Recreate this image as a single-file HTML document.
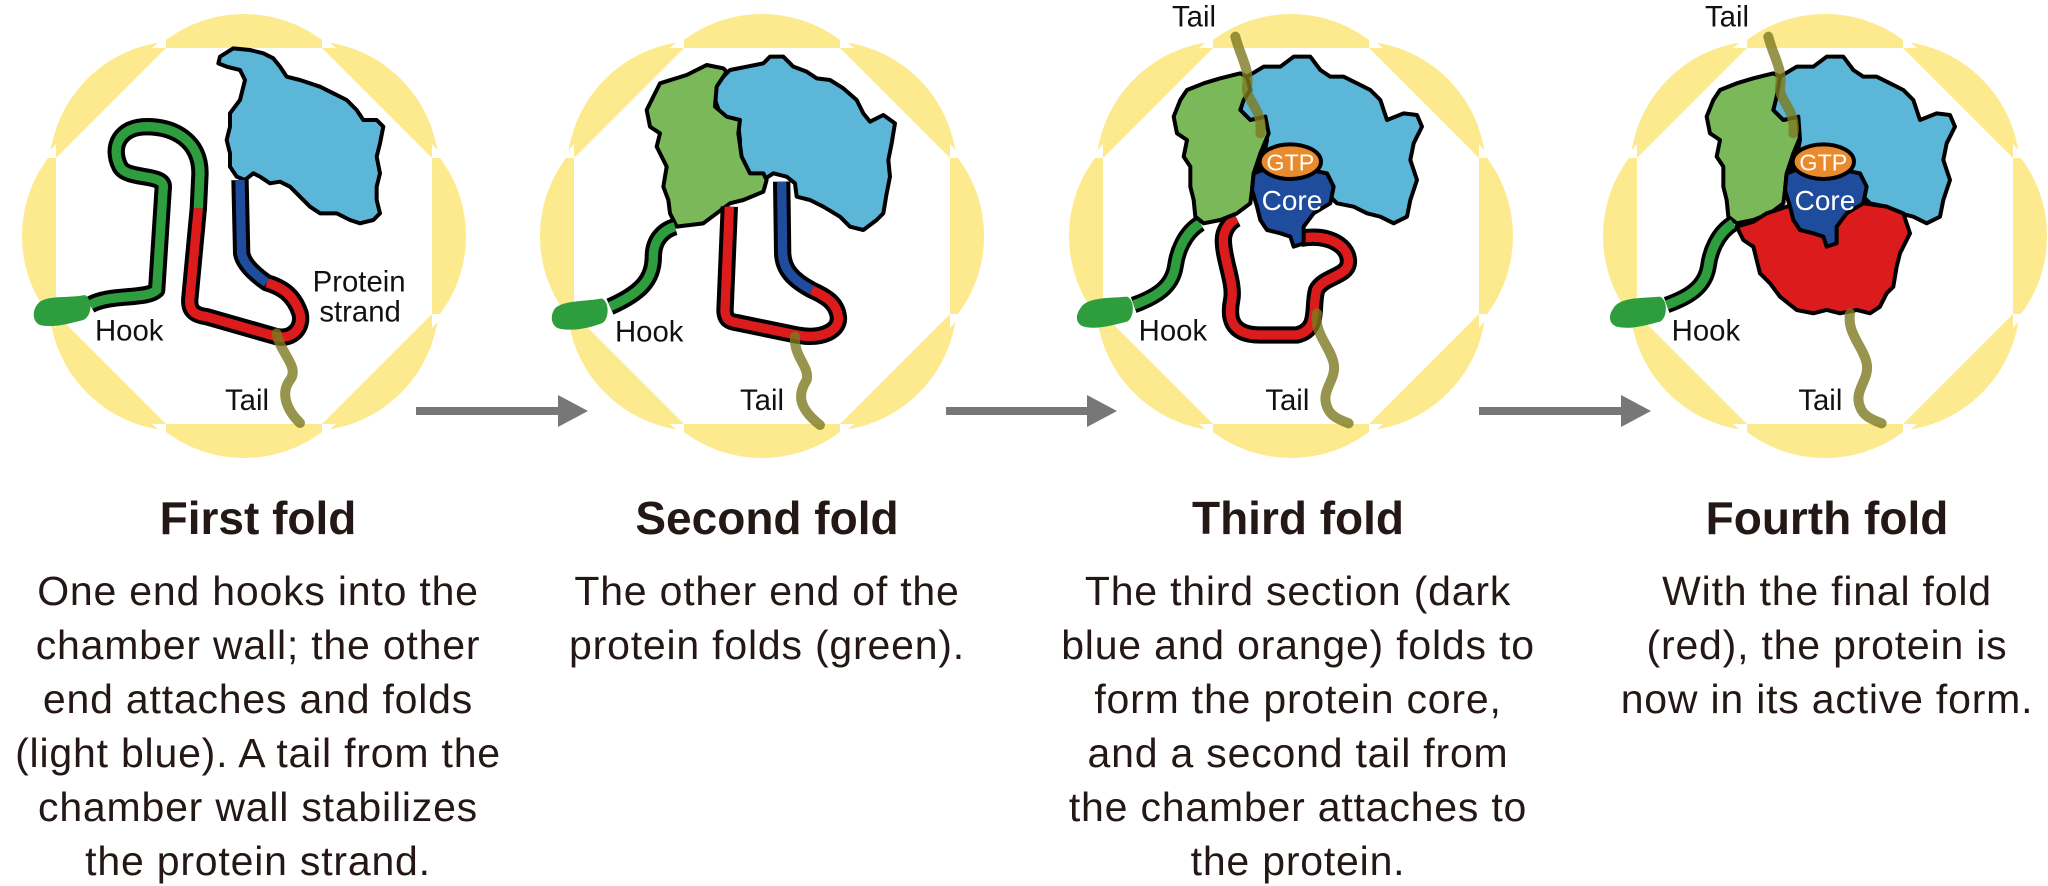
<!DOCTYPE html>
<html><head><meta charset="utf-8"><style>
html,body{margin:0;padding:0;background:#fff;}
svg{display:block;}
text{font-family:"Liberation Sans",sans-serif;}
</style></head><body>
<svg width="2048" height="886" viewBox="0 0 2048 886" xmlns="http://www.w3.org/2000/svg">
<defs>
  <g id="cham">
    <g fill="#fdea8e">
      <circle cx="92" cy="0" r="130"/><circle cx="-92" cy="0" r="130"/>
      <circle cx="0" cy="92" r="130"/><circle cx="0" cy="-92" r="130"/>
      <circle cx="65" cy="65" r="130"/><circle cx="-65" cy="65" r="130"/>
      <circle cx="65" cy="-65" r="130"/><circle cx="-65" cy="-65" r="130"/>
    </g>
    <polygon fill="#fff" points="188,78 78,188 -78,188 -188,78 -188,-78 -78,-188 78,-188 188,-78"/>
    <g fill="#fff">
      <polygon points="188,78 200,78 188,92"/>
      <polygon points="78,188 78,200 92,188"/>
      <polygon points="-188,78 -200,78 -188,92"/>
      <polygon points="-78,188 -78,200 -92,188"/>
      <polygon points="188,-78 200,-78 188,-92"/>
      <polygon points="78,-188 78,-200 92,-188"/>
      <polygon points="-188,-78 -200,-78 -188,-92"/>
      <polygon points="-78,-188 -78,-200 -92,-188"/>
    </g>
  </g>
  <g id="p4green">
    <polygon fill="#7ab85a" stroke="#000" stroke-width="12" stroke-linejoin="round" points="420,270 470,250 520,235 580,220 600,230 610,270 590,300 580,330 610,360 655,350 665,400 640,460 620,520 615,570 610,610 570,640 520,660 470,670 445,650 440,600 430,560 430,500 410,470 420,420 390,400 380,350 400,300"/>
  </g>
  <g id="p4blue">
    <polygon fill="#5cb6d7" stroke="#000" stroke-width="12" stroke-linejoin="round" points="600,230 650,200 700,200 740,170 790,170 820,210 850,230 890,230 930,250 970,270 1000,300 1020,360 1070,340 1110,345 1125,380 1100,430 1090,480 1110,540 1090,600 1080,650 1040,670 1000,650 960,640 920,620 870,610 850,590 810,570 640,560 620,540 650,470 660,420 655,350 610,360 580,330 590,290"/>
  </g>
  <g id="p4core">
    <polygon fill="#1f4c9c" stroke="#000" stroke-width="12" stroke-linejoin="round" points="620,520 660,505 760,505 840,520 860,560 850,610 800,640 770,680 770,730 740,740 730,710 700,700 660,690 640,660 630,620 615,570"/>
    <ellipse cx="730" cy="485" rx="92" ry="52" fill="#e98b2d" stroke="#000" stroke-width="12"/>
    <text x="730" y="512" font-size="70" fill="#fff" text-anchor="middle">GTP</text>
    <text x="735" y="630" font-size="84" fill="#fff" text-anchor="middle">Core</text>
  </g>
  <g id="p4hook">
    <path d="M460,670 C410,700 390,760 385,800 C375,860 330,890 260,915" fill="none" stroke="#000" stroke-width="50"/>
    <path d="M460,670 C410,700 390,760 385,800 C375,860 330,890 260,915" fill="none" stroke="#2e9d3e" stroke-width="28"/>
    <path d="M100,925 C120,890 190,895 240,890 C265,900 262,955 240,965 C200,975 150,990 110,980 C85,970 85,945 100,925 Z" fill="#2e9d3e"/>
    <text x="275" y="1022" font-size="88" fill="#111">Hook</text>
  </g>
  <g id="p4toptail">
    <path d="M565,110 C580,170 610,210 600,260 C595,300 650,330 640,400" fill="none" stroke="#7d7a20" stroke-opacity="0.8" stroke-width="30" stroke-linecap="round"/>
    <text x="375" y="80" font-size="88" fill="#111">Tail</text>
  </g>
  <g id="p4bottail">
    <path d="M810,940 C800,1000 850,1040 860,1090 C870,1140 820,1170 840,1220 C850,1250 880,1260 905,1270" fill="none" stroke="#7d7a20" stroke-opacity="0.8" stroke-width="30" stroke-linecap="round"/>
    <text x="655" y="1230" font-size="88" fill="#111">Tail</text>
  </g>
</defs>

<use href="#cham" transform="translate(244,236)"/>
<use href="#cham" transform="translate(762,236)"/>
<use href="#cham" transform="translate(1291,236)"/>
<use href="#cham" transform="translate(1825,236)"/>

<g transform="translate(0,0) scale(0.33333)">
  <polygon fill="#5cb6d7" stroke="#000" stroke-width="12" stroke-linejoin="round" points="660,170 700,145 750,150 790,160 820,175 840,200 860,230 900,240 960,260 1000,280 1040,300 1070,330 1090,360 1130,360 1150,380 1140,430 1130,470 1140,520 1130,560 1130,600 1140,640 1120,660 1080,670 1050,660 1010,640 960,640 930,620 900,590 870,560 840,545 810,550 780,530 760,520 735,540 710,530 690,500 690,460 680,420 690,380 690,340 720,300 735,240 720,210 680,200 655,190"/>
  <path d="M270,915 C330,880 440,900 470,870 L490,560 C490,520 380,540 360,500 C330,440 360,380 440,380 C520,380 600,420 600,520 L595,625 L570,890 C565,930 580,945 620,950 L830,1010 C880,1020 910,980 900,940 C880,880 840,860 800,848 C760,820 730,790 725,760 L720,540" fill="none" stroke="#000" stroke-width="52" stroke-linejoin="round"/>
  <path d="M270,915 C330,880 440,900 470,870 L490,560 C490,520 380,540 360,500 C330,440 360,380 440,380 C520,380 600,420 600,520 L595,625" fill="none" stroke="#2e9d3e" stroke-width="28"/>
  <path d="M595,625 L570,890 C565,930 580,945 620,950 L830,1010 C880,1020 910,980 900,940 C880,880 840,860 800,848" fill="none" stroke="#dc1c1c" stroke-width="28"/>
  <path d="M800,848 C760,820 730,790 725,760 L720,540" fill="none" stroke="#1f4c9c" stroke-width="28"/>
  <path d="M120,905 C150,885 210,895 255,885 C280,900 275,950 250,960 C210,970 160,985 120,975 C95,965 95,925 120,905 Z" fill="#2e9d3e"/>
  <path d="M830,1000 C840,1060 900,1100 870,1140 C840,1180 860,1230 900,1269" fill="none" stroke="#7d7a20" stroke-opacity="0.8" stroke-width="30" stroke-linecap="round"/>
  <text x="285" y="1022" font-size="88" fill="#111">Hook</text>
  <text x="938" y="875" font-size="88" fill="#111">Protein</text>
  <text x="958" y="965" font-size="88" fill="#111">strand</text>
  <text x="675" y="1230" font-size="88" fill="#111">Tail</text>
</g>

<g transform="translate(530,0) scale(0.33333)">
  <polygon fill="#5cb6d7" stroke="#000" stroke-width="12" stroke-linejoin="round" points="560,250 600,210 650,200 700,190 720,170 760,170 790,200 830,215 860,235 900,240 940,265 980,300 1000,340 1020,365 1060,345 1095,370 1085,430 1075,480 1080,530 1070,580 1060,640 1040,660 1000,690 960,680 930,650 880,620 840,600 800,590 795,550 770,530 730,520 700,540 660,530 630,480 630,420 625,380 600,360 570,340 555,300"/>
  <polygon fill="#7ab85a" stroke="#000" stroke-width="12" stroke-linejoin="round" points="390,250 470,225 530,195 580,205 590,215 560,260 555,320 590,350 630,360 625,400 635,470 660,520 700,520 710,540 700,575 640,600 600,610 560,640 520,670 440,680 420,640 415,600 400,560 410,500 380,440 390,400 360,380 350,330 370,290"/>
  <path d="M240,920 C330,880 370,840 370,770 C370,720 400,690 435,680" fill="none" stroke="#000" stroke-width="52"/>
  <path d="M240,920 C330,880 370,840 370,770 C370,720 400,690 435,680" fill="none" stroke="#2e9d3e" stroke-width="28"/>
  <path d="M598,620 L585,930 C585,960 600,965 620,968 L800,1005 C880,1020 930,990 925,950 C920,910 890,890 845,870 C790,840 760,810 758,760 L755,545" fill="none" stroke="#000" stroke-width="52" stroke-linejoin="round"/>
  <path d="M598,620 L585,930 C585,960 600,965 620,968 L800,1005 C880,1020 930,990 925,950 C920,910 890,890 845,870" fill="none" stroke="#dc1c1c" stroke-width="28"/>
  <path d="M845,870 C790,840 760,810 758,760 L755,545" fill="none" stroke="#1f4c9c" stroke-width="28"/>
  <path d="M75,925 C100,900 170,905 215,895 C240,905 238,960 215,970 C175,985 125,995 85,985 C62,975 60,945 75,925 Z" fill="#2e9d3e"/>
  <path d="M795,1010 C790,1070 840,1100 830,1140 C805,1180 800,1220 870,1275" fill="none" stroke="#7d7a20" stroke-opacity="0.8" stroke-width="30" stroke-linecap="round"/>
  <text x="255" y="1025" font-size="88" fill="#111">Hook</text>
  <text x="630" y="1230" font-size="88" fill="#111">Tail</text>
</g>

<g transform="translate(1047,0) scale(0.33333)">
  <use href="#p4blue"/>
  <use href="#p4hook"/>
  <path d="M760,715 C849,700 909,740 904,790 C899,830 829,830 809,870 C794,920 819,990 749,1005 L639,1005 C549,1005 544,950 554,900 C564,850 529,780 529,720 C529,690 549,665 569,655" fill="none" stroke="#000" stroke-width="52" stroke-linejoin="round"/>
  <path d="M760,715 C849,700 909,740 904,790 C899,830 829,830 809,870 C794,920 819,990 749,1005 L639,1005 C549,1005 544,950 554,900 C564,850 529,780 529,720 C529,690 549,665 569,655" fill="none" stroke="#dc1c1c" stroke-width="28"/>
  <use href="#p4green"/>
  <use href="#p4core"/>
  <use href="#p4toptail"/>
  <use href="#p4bottail"/>
</g>

<g transform="translate(1580,0) scale(0.33333)">
  <use href="#p4green"/>
  <use href="#p4blue"/>
  <use href="#p4hook"/>
  <polygon fill="#dc1c1c" stroke="#000" stroke-width="12" stroke-linejoin="round" points="470,680 520,665 560,640 620,620 700,615 780,620 850,610 920,620 970,640 990,700 960,760 950,800 940,860 920,880 900,920 870,940 830,930 780,940 740,930 700,940 650,930 600,890 570,850 540,820 530,780 520,740 490,720"/>
  <use href="#p4core"/>
  <use href="#p4toptail"/>
  <use href="#p4bottail"/>
</g>

<g fill="#777">
  <rect x="416" y="407" width="145" height="8"/><polygon points="558,395 588,411 558,427"/>
  <rect x="946" y="407" width="143" height="8"/><polygon points="1087,395 1117,411 1087,427"/>
  <rect x="1479" y="407" width="145" height="8"/><polygon points="1621,395 1651,411 1621,427"/>
</g>

<g font-size="46" font-weight="bold" fill="#231815" text-anchor="middle">
  <text x="258" y="534">First fold</text>
  <text x="767" y="534">Second fold</text>
  <text x="1298" y="534">Third fold</text>
  <text x="1827" y="534">Fourth fold</text>
</g>

<g font-size="41" fill="#231815" text-anchor="middle" letter-spacing="0.8">
  <text x="258" y="605">One end hooks into the</text>
  <text x="258" y="659">chamber wall; the other</text>
  <text x="258" y="713">end attaches and folds</text>
  <text x="258" y="767">(light blue). A tail from the</text>
  <text x="258" y="821">chamber wall stabilizes</text>
  <text x="258" y="875">the protein strand.</text>

  <text x="767" y="605">The other end of the</text>
  <text x="767" y="659">protein folds (green).</text>

  <text x="1298" y="605">The third section (dark</text>
  <text x="1298" y="659">blue and orange) folds to</text>
  <text x="1298" y="713">form the protein core,</text>
  <text x="1298" y="767">and a second tail from</text>
  <text x="1298" y="821">the chamber attaches to</text>
  <text x="1298" y="875">the protein.</text>

  <text x="1827" y="605">With the final fold</text>
  <text x="1827" y="659">(red), the protein is</text>
  <text x="1827" y="713">now in its active form.</text>
</g>
</svg>
</body></html>
